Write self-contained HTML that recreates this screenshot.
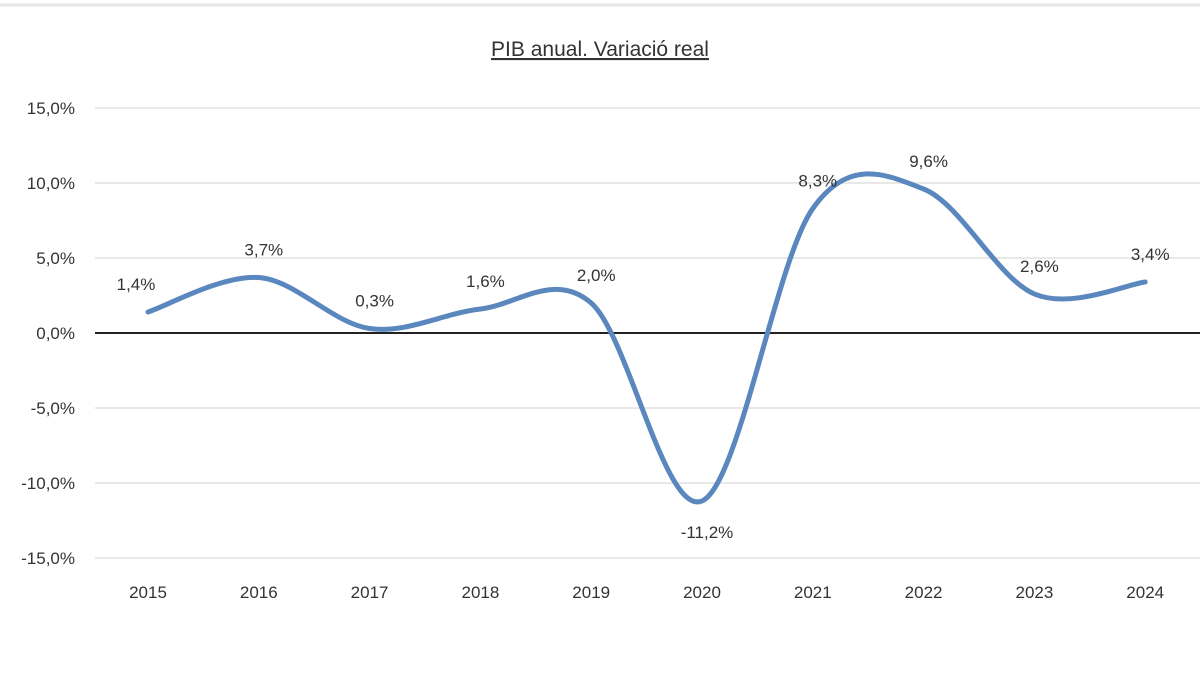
<!DOCTYPE html>
<html><head><meta charset="utf-8"><style>
html,body{margin:0;padding:0;background:#fff;}
svg{display:block;font-family:"Liberation Sans",sans-serif;}
</style></head><body>
<svg id="chart" width="1200" height="675" viewBox="0 0 1200 675">
<line x1="0" y1="5" x2="1200" y2="5" stroke="#e6e6e6" stroke-width="3"/>
<text x="600" y="56" text-anchor="middle" font-size="21" fill="#333" text-decoration="underline">PIB anual. Variació real</text>
<g id="grid"></g><g id="yticks"></g><g id="xticks"></g><g id="series"></g><g id="labels"></g>
</svg>
<script>
const years = ["2015","2016","2017","2018","2019","2020","2021","2022","2023","2024"];
const values = [1.4, 3.7, 0.3, 1.6, 2.0, -11.2, 8.3, 9.6, 2.6, 3.4];
const yTicks = [15, 10, 5, 0, -5, -10, -15];

const NS = "http://www.w3.org/2000/svg";
const X0 = 95, X1 = 1200, Y0 = 333, PX = 15;
function y(v){ return Y0 - v * PX; }
function x(i){ return 148 + i * 110.8; }
function fmt(v){ return v.toFixed(1).replace(".", ",") + "%"; }
function mk(tag, attrs, parent){ const e = document.createElementNS(NS, tag); for (const k in attrs) e.setAttribute(k, attrs[k]); parent.appendChild(e); return e; }

const grid = document.getElementById("grid"), yt = document.getElementById("yticks");
yTicks.forEach(t => {
  const l = mk("line", {x1: X0, x2: X1, y1: y(t), y2: y(t), stroke: t === 0 ? "#222" : "#e8e8e8", "stroke-width": 2}, grid);
  
  
  const tx = mk("text", {x: 75, y: y(t) + 6, "text-anchor": "end", "font-size": 17, fill: "#333"}, yt);
  tx.textContent = fmt(t);
  
  
});
const xt = document.getElementById("xticks");
years.forEach((yr, i) => {
  const tx = mk("text", {x: x(i), y: 598, "text-anchor": "middle", "font-size": 17, fill: "#333"}, xt);
  tx.textContent = yr;
  
  
});
// Catmull-Rom smoothed path
const pts = values.map((v, i) => [x(i), y(v)]);
let d = "M" + pts[0][0] + "," + pts[0][1];
for (let i = 0; i < pts.length - 1; i++) {
  const p0 = pts[Math.max(0, i - 1)], p1 = pts[i], p2 = pts[i + 1], p3 = pts[Math.min(pts.length - 1, i + 2)];
  const t = 6;
  const c1 = [p1[0] + (p2[0] - p0[0]) / t, p1[1] + (p2[1] - p0[1]) / t];
  const c2 = [p2[0] - (p3[0] - p1[0]) / t, p2[1] - (p3[1] - p1[1]) / t];
  d += " C" + c1.join(",") + " " + c2.join(",") + " " + p2.join(",");
}
const path = mk("path", {d: d, fill: "none", stroke: "#5a87bd", "stroke-width": 5, "stroke-linecap": "round"}, document.getElementById("series"));


const lg = document.getElementById("labels");
values.forEach((v, i) => {
  const ly = v < 0 ? y(v) + 37 : y(v) - 22;
  const tx = mk("text", {x: x(i) + (i === 0 ? -12 : 5), y: ly, "text-anchor": "middle", "font-size": 17, fill: "#333"}, lg);
  tx.textContent = fmt(v);
  
  
});
</script>
</body></html>
